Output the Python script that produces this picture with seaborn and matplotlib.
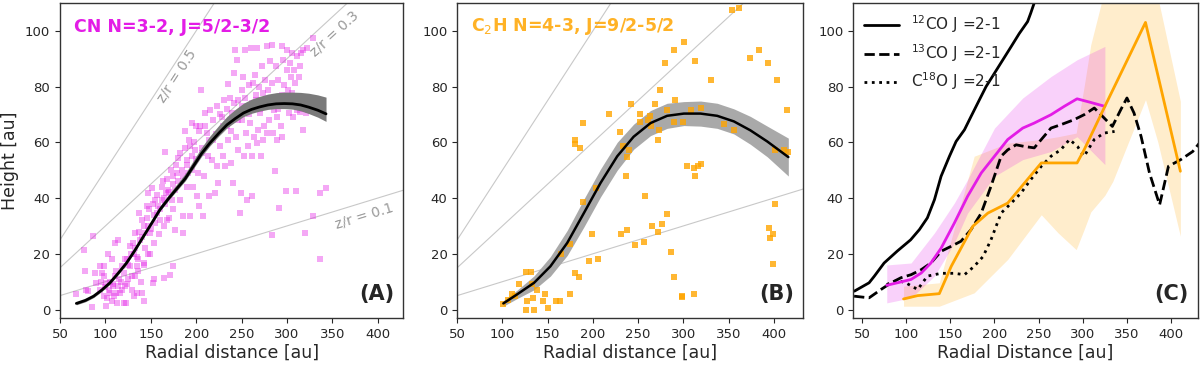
import numpy as np
import pandas as pd
import matplotlib
matplotlib.use("Agg")
import matplotlib.pyplot as plt
import seaborn as sns

# -------------------- DATA --------------------

# (A) CN N=3-2 emission surface, individual pixels
cn_r = [68, 76, 77.5, 79, 81, 86, 85, 88.5, 90, 94, 96, 98, 94, 98, 100.5, 101, 103, 105, 107,
        108.5, 110.5, 110.5, 112.5, 114, 114, 116, 118, 120, 121.5, 123, 123.5, 125, 127, 127,
        129, 131, 132.5, 132.5, 134.5, 134.5, 136, 137.5, 138, 140, 140, 142, 142.5, 143.5,
        145.5, 147, 147, 147, 149, 151, 152, 153, 153.5, 154.5, 156.5, 158, 160, 162, 163,
        164.5, 165.5, 167, 167.5, 169, 171, 173, 174, 175, 176.5, 176.5, 178.5, 180.5, 182,
        184, 185, 186, 187.5, 189.5, 189.5, 191.5, 193, 193, 195, 195, 197, 198.5, 200, 200.5,
        202.5, 203.5, 204, 205.5, 206, 208, 208.5, 210, 211.5, 213.5, 214.5, 215, 217, 219,
        220.5, 222.5, 223, 224.5, 226, 228, 229, 230.5, 232, 233.5, 234.5, 235.5, 237.5, 238,
        239, 241, 241.5, 243, 244, 245, 245.5, 246.5, 248.5, 249, 250, 251, 252, 253, 254, 255,
        255.5, 256.5, 257.5, 258.5, 259.5, 260, 261, 262, 263, 264, 265, 266, 266.5, 267.5,
        268.5, 269.5, 270.5, 271, 272, 273.5, 274, 275, 276, 277, 277.5, 278.5, 279.5, 280.5,
        281.5, 282, 283, 283, 284, 285, 286, 287, 288, 289, 289.5, 290.5, 291.5, 292.5, 293,
        294, 295, 296, 297, 298, 299, 300, 300.5, 301.5, 302.5, 303.5, 304, 305, 306, 307, 308,
        309, 310, 311, 311.5, 312.5, 313.5, 314.5, 315.5, 316.5, 317.5, 318, 319, 320, 321, 322,
        323.5, 329, 329, 336.5, 336.5, 343,
        100, 102, 105, 108, 110, 112, 115, 118, 120, 122, 125, 128, 130, 133, 135, 137, 140,
        142, 144, 146, 148, 150, 152, 155, 157, 160, 162, 164, 166, 168, 170, 172, 175, 178,
        180, 182, 185, 188, 190, 192, 195, 198, 200, 203, 206, 210, 214, 218, 222, 226, 230,
        234, 238, 242, 246, 250, 254, 258, 262, 266, 270, 274, 278, 282, 286, 290, 294, 298,
        302, 306, 310, 314, 318,
        95, 98, 104, 107, 112, 117, 124, 129, 131, 136, 139, 143, 149, 154, 159, 165, 170, 174]
cn_z = [5.4, 21.5, 13.7, 7, 6.5, 26.5, 1, 13, 9.5, 15.5, 13, 15.5, 7, 5, 1.2, 9.5, 20, 6, 18,
        8.4, 12, 24, 2.4, 25, 8.4, 6, 15.5, 2.4, 8.4, 2.4, 18, 10.8, 15.5, 22.7,
        7, 20, 12, 27.5, 15.5, 6, 18, 34.6, 25, 32, 6, 16.7, 3, 27.5,
        37, 41.8, 30, 20, 27.5, 43.6, 9.5, 34, 10.8, 39.4, 34.6, 37, 32, 39.4, 46,
        11.4, 56.4, 41.8, 32, 43, 12.5, 39.4, 15.5, 47.8, 28.7, 43, 49, 54.4, 39.4,
        50, 33.5, 27.5, 64, 53.8, 44, 49, 58.5, 33.5, 67, 55, 44, 57.3, 65.7, 40.6,
        49, 37, 65.7, 78.9, 56, 33.5, 47.8, 70.5, 63.3, 55, 40.6, 71.7, 53.8, 61,
        41.8, 51.4, 73, 45.4, 58.5, 69, 55, 75.3, 51.4, 65.7, 81, 61, 75.9, 52.6,
        70.5, 45.4, 85, 93, 62, 89.6, 57.3, 75.3, 34.6, 41.8, 67.9, 78.9, 83.6, 55, 93, 63.3,
        71.7, 39.4, 58.5, 80.6, 67, 93.8, 55, 40.6, 81.2, 62, 84.2, 75.3, 59.7, 93.8,
        64.5, 80, 70.5, 55, 87.2, 61, 77.7, 65.7, 82.4, 72.9, 94.4, 63.3, 78.9, 67.9,
        89, 75.3, 95, 26.9, 81.2, 63.3, 71.7, 49.6, 87.2, 69, 61, 82.4, 36.4, 76.5, 65.7,
        62, 94.4, 89.6, 80.6, 72.9, 42.4, 86, 93, 78.9, 70.5, 88.4, 83.6, 92, 77.7, 69, 86,
        81.2, 42.4, 90.8, 71.7, 76.5, 83.6, 87.2, 92, 72.9, 64.5, 93, 75.3, 27.5, 70.5, 93.8,
        71.7, 97.4, 33.5, 41.8, 18, 43.6,
        8, 4, 10, 9, 5, 14, 11, 7, 13, 18, 16, 20, 24, 22, 19, 28, 26,
        30, 22, 33, 36, 29, 38, 31, 41, 36, 44, 40, 38, 47, 42, 50, 45, 52,
        46, 56, 48, 58, 52, 61, 50, 60, 54, 64, 58, 66, 61, 68, 63, 70, 66,
        72, 64, 74, 68, 73, 76, 70, 74, 77, 72, 75, 73, 76, 74, 72, 77, 74,
        75, 73, 74, 71, 72,
        10, 12, 7, 3, 6, 10, 9, 12, 5, 14, 10, 16, 20, 24, 27, 30, 33, 36]

# (A) fitted surface and its uncertainty (offsets below / above the fit)
cn_fit_r = [68, 78, 87, 96, 105, 114, 123, 132, 142, 151, 160, 170, 179, 188, 197, 206, 215,
            225, 234, 243, 252, 261, 270, 279, 288, 297, 306, 315, 324, 334, 343]
cn_fit_z = [2.2, 3.3, 4.8, 7.0, 9.6, 13, 16.6, 21, 26.3, 31, 35.8, 40, 43.5, 47, 51.5, 56, 59.7,
            63.3, 66.3, 68.5, 70.5, 71.8, 72.7, 73.4, 73.8, 73.9, 73.8, 73.4, 72.6, 71.5, 70.2]
cn_err_lo = [0.5, 0.5, 0.5, 0.5, 0.5, 0.5, 0.5, 0.5, 0.5, 0.5, 0.5, 0.6, 0.7, 0.8, 0.9, 1.0,
             1.0, 1.0, 1.1, 1.2, 1.3, 1.4, 1.5, 1.6, 1.7, 1.8, 1.9, 2.1, 2.3, 2.5, 2.7]
cn_err_hi = [0.5, 0.5, 0.5, 0.6, 0.6, 0.7, 0.8, 0.9, 1.0, 1.1, 1.3, 1.4, 1.6, 1.8, 2.0, 2.2,
             2.5, 2.8, 3.0, 3.3, 3.5, 3.7, 3.8, 3.9, 4.0, 4.1, 4.2, 4.5, 5.0, 5.5, 6.0]

# (B) C2H N=4-3 emission surface
c2h_r = [101, 106, 111, 114, 118, 125.5, 132, 133, 134, 127, 125.5, 135, 138, 146.5, 145, 150,
         159, 163.5, 165, 174.5, 175, 180, 184.5, 180, 180, 185.5, 189, 189, 196, 199, 203,
         205.5, 218, 229.5, 231, 233.5, 237, 238, 238, 240, 242, 246, 252.5, 252.5, 261, 263,
         264.5, 258, 256, 265, 269, 272, 273, 274.5, 272, 276.5, 279.5, 281.5, 281.5, 286.5,
         290, 291, 290, 290, 299, 299, 300, 301, 304, 308.5, 311.5, 313, 313, 311.5, 316, 319,
         320, 331, 345, 356.5, 354, 361, 374, 384, 393.5, 403, 414.8, 401, 411, 415.5, 401,
         395, 395.5, 399, 399]
c2h_z = [2, 3.5, 5.7, 5, 9.3, 13.5, 13.5, 9.3, 4.2, 3, 0, 0, 7, 5.7, 3, 0.6,
         3, 3, 20, 5.7, 23.5, 13, 11.6, 61, 59.4, 58, 67, 38.6, 17.3, 27, 43.6,
         18, 70, 63.7, 27, 58.8, 47.8, 54.6, 28.7, 57.3, 73.7, 23, 70, 67.3, 68, 69.5,
         66, 40.8, 24.3, 30, 73.7, 61, 64.5, 78.6, 27.9, 30.7, 88.6, 34.3, 71.7, 20.7,
         93, 75, 67.3, 11.6, 5, 4.4, 67.2, 96, 51.6, 71.7, 50.8, 89.3, 48, 5.7, 51.6, 72.3,
         52.2, 82.2, 66.5, 64.5, 107.3, 108, 90.2, 93, 88.6, 82.2, 71.7, 57.3, 57.3, 56.5, 38,
         29.3, 25.7, 27, 16.4]

c2h_fit_r = [101, 116, 135, 153, 171.6, 190, 208.4, 226.9, 245, 263.7, 282, 300.5, 319,
             337.4, 355.8, 374, 392.7, 416]
c2h_fit_z = [2.2, 5.4, 9.6, 15.5, 23.9, 34.6, 45.4, 55, 62, 66.9, 69.5, 70.3, 70.3,
             69.5, 67.5, 64.3, 60.3, 54.7]
c2h_fit_half = [1.0, 1.5, 2.5, 3.5, 4.5, 5, 5, 5, 4.5, 4.5, 4.5, 4.3, 4.5, 4.5, 4.5, 5, 5.5, 6.8]

# (C) 12CO, 13CO, C18O surfaces
co12_r = [41.3, 58, 64, 75, 90, 105, 115, 124, 132, 139.5, 149, 156.5, 166, 173.5, 183, 190.5,
          200, 209.5, 219, 228, 237.5, 241, 245]
co12_z = [6.6, 9.6, 12, 16.7, 21, 25, 28.7, 32.9, 39.4, 47.8, 55, 60.3, 64.5, 69.3, 75.3, 80,
          84.8, 89.6, 94.4, 99, 103.3, 106.3, 110]

co13_r = [41, 58, 71.5, 83, 94, 105.5, 117, 128, 139.5, 151, 162, 173.5, 185, 196, 207.5, 215,
          224.5, 234, 245, 253, 264, 275, 290, 301.5, 313, 320.5, 333.5, 343, 350, 358, 366,
          375.5, 387, 397, 411, 424.5, 432]
co13_z = [4.8, 4.2, 7.2, 9.6, 11.4, 12.5, 14.3, 16.7, 20.9, 22.7, 24.5, 28.7, 34.6, 44.2, 55,
          57.3, 59.1, 58.5, 58, 61, 65.1, 66.3, 68.1, 69.9, 72.3, 69.9, 65.7, 71.7, 75.9, 70.5,
          62.1, 49, 37.6, 51.4, 53.8, 56.7, 59.7]

c18o_r = [78, 90, 100, 113, 124, 139.5, 154.5, 166, 177, 187, 196, 207.5, 219, 230, 241, 253,
          264, 275, 285, 294, 301.5, 313, 324, 336]
c18o_z = [9, 10.5, 9.5, 7.2, 12, 13, 13, 12.5, 15.5, 19, 25, 34.6, 38.2, 41.8, 46.6, 51.4, 55,
          57.3, 61, 58.5, 55, 61, 63.3, 63.9]

cn_c_r = [78, 90, 105.5, 117, 128, 139.5, 154.5, 169.5, 185, 200, 215, 232, 245, 264, 279,
          293.5, 309, 325]
cn_c_z = [8.7, 9.6, 10.8, 13.1, 16.7, 22, 31, 40.6, 49, 55, 61, 65.1, 66.9, 69.9, 72.9, 75.6,
          74.3, 72.9]
cn_band_r = [78, 105.5, 132, 154.5, 169.5, 200, 232, 264, 293.5, 325]
cn_band_lo = [2.4, 4.2, 12, 23.9, 34.6, 47.8, 53.8, 56.7, 62, 52]
cn_band_hi = [16, 16.7, 27.5, 38.2, 46.6, 65.1, 75.9, 83.6, 89.6, 94.4]

c2h_c_r = [97, 113, 137.5, 151, 175.5, 192.5, 215, 253, 293.5, 301.5, 325, 371, 410.5]
c2h_c_z = [3.8, 5, 5.7, 15.5, 29.9, 34.6, 38.2, 52.6, 52.6, 57.3, 72.9, 103, 49.6]
c2h_band_r = [97, 137.5, 177, 215, 253, 272, 292.5, 301.5, 309, 325, 334, 371, 385, 410.5]
c2h_band_lo = [1.2, 1.2, 6, 18, 34, 27.5, 21.5, 28.7, 35, 41, 46, 75.3, 60, 26.3]
c2h_band_hi = [8.4, 9.6, 55, 59.7, 61, 62, 63.3, 80, 95, 115, 120, 125, 112, 74.7]

xticks = [50, 100, 150, 200, 250, 300, 350, 400]
yticks = [0, 20, 40, 60, 80, 100]

# -------------------- STYLE --------------------

sns.set_style("ticks")
plt.rcParams["font.family"] = ["DejaVu Sans"]
plt.rcParams["xtick.labelsize"] = 9.5
plt.rcParams["ytick.labelsize"] = 9.5

MAG = "#e31ce6"
ORA = "#ffa500"
LINE_GREY = "#c8c8c8"

fig = plt.figure(figsize=(12, 3.65), dpi=100)
axA = fig.add_axes([0.050, 0.129, 0.286, 0.863])
axB = fig.add_axes([0.381, 0.129, 0.288, 0.863])
axC = fig.add_axes([0.711, 0.129, 0.287, 0.863])

zr_x = np.array([40, 440])


def zr_lines(ax):
    for k in (0.5, 0.3, 0.1):
        ax.plot(zr_x, k * zr_x, color=LINE_GREY, lw=0.8, zorder=0)


# -------------------- (A) --------------------

zr_lines(axA)
sns.scatterplot(x=cn_r, y=cn_z, ax=axA, marker="s", s=24, color=MAG, alpha=0.38,
                linewidth=0, zorder=2)
cn_lo = np.array(cn_fit_z) - np.array(cn_err_lo)
cn_hi = np.array(cn_fit_z) + np.array(cn_err_hi)
axA.fill_between(cn_fit_r, cn_lo, cn_hi, color="#7a7a7a", lw=0, zorder=3)
sns.lineplot(x=cn_fit_r, y=cn_fit_z, ax=axA, color="black", lw=2, sort=False,
             estimator=None, zorder=4)
axA.text(0.04, 0.925, "CN N=3-2, J=5/2-3/2", transform=axA.transAxes, color=MAG,
         fontsize=12.5, fontweight="bold", va="center")
axA.text(179, 84, "z/r = 0.5", rotation=57, color="grey", alpha=0.8, fontsize=10,
         ha="center", va="center", rotation_mode="anchor")
axA.text(352, 99, "z/r = 0.3", rotation=42.5, color="grey", alpha=0.8, fontsize=10,
         ha="center", va="center", rotation_mode="anchor")
axA.text(385, 33.5, "z/r = 0.1", rotation=17, color="grey", alpha=0.8, fontsize=10,
         ha="center", va="center", rotation_mode="anchor")
axA.set_ylabel("Height [au]", fontsize=12.5)

# -------------------- (B) --------------------

zr_lines(axB)
lo = np.array(c2h_fit_z) - np.array(c2h_fit_half)
hi = np.array(c2h_fit_z) + np.array(c2h_fit_half)
axB.fill_between(c2h_fit_r, lo, hi, color="#a9a9a9", lw=0, zorder=1)
sns.scatterplot(x=c2h_r, y=c2h_z, ax=axB, marker="s", s=24, color=ORA, alpha=0.8,
                linewidth=0, zorder=2)
sns.lineplot(x=c2h_fit_r, y=c2h_fit_z, ax=axB, color="black", lw=1.8, sort=False,
             estimator=None, zorder=4)
axB.text(0.04, 0.925, "C$_2$H N=4-3, J=9/2-5/2", transform=axB.transAxes, color=ORA,
         alpha=0.85, fontsize=12.5, fontweight="bold", va="center")

# -------------------- (C) --------------------

axC.fill_between(c2h_band_r, c2h_band_lo, c2h_band_hi, color=ORA, alpha=0.2, lw=0)
axC.fill_between(cn_band_r, cn_band_lo, cn_band_hi, color=MAG, alpha=0.2, lw=0)
sns.lineplot(x=co12_r, y=co12_z, ax=axC, color="black", lw=2, sort=False, estimator=None,
             label="$^{12}$CO J =2-1")
sns.lineplot(x=co13_r, y=co13_z, ax=axC, color="black", lw=2, sort=False, estimator=None,
             linestyle="--", label="$^{13}$CO J =2-1")
sns.lineplot(x=c18o_r, y=c18o_z, ax=axC, color="black", lw=2, sort=False, estimator=None,
             linestyle=":", label="C$^{18}$O J =2-1")
sns.lineplot(x=cn_c_r, y=cn_c_z, ax=axC, color=MAG, lw=2, sort=False, estimator=None)
sns.lineplot(x=c2h_c_r, y=c2h_c_z, ax=axC, color=ORA, lw=2, sort=False, estimator=None)
axC.legend(loc="upper left", frameon=False, fontsize=11, handlelength=2.3,
           borderaxespad=0.3, labelspacing=0.45)

# -------------------- AXES --------------------

for ax, lab, xl in ((axA, "(A)", "Radial distance [au]"),
                    (axB, "(B)", "Radial distance [au]"),
                    (axC, "(C)", "Radial Distance [au]")):
    ax.set_ylim(-3, 110)
    ax.set_xticks(xticks)
    ax.set_yticks(yticks)
    ax.set_xlabel(xl, fontsize=12.5, labelpad=2)
    ax.text(0.975, 0.045, lab, transform=ax.transAxes, fontsize=15, fontweight="bold",
            ha="right", va="bottom")
    for sp in ax.spines.values():
        sp.set_visible(True)
        sp.set_linewidth(1.0)
        sp.set_color("#333333")

axA.set_xlim(50, 428)
axB.set_xlim(50, 432)
axC.set_xlim(40, 430)

fig.savefig("out.png", dpi=100)
